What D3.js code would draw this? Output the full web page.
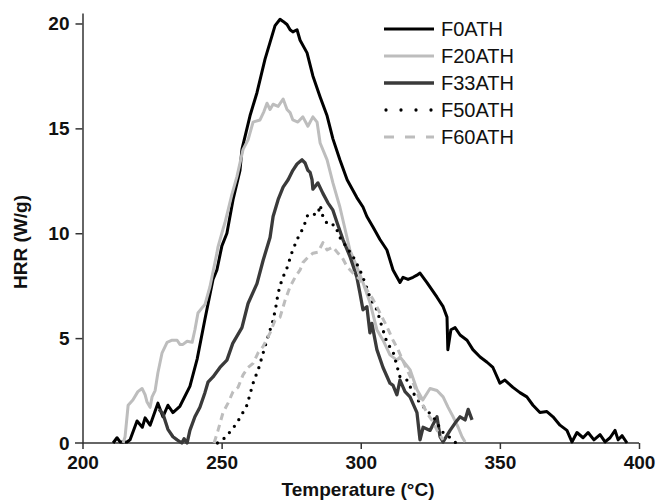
<!DOCTYPE html>
<html>
<head>
<meta charset="utf-8">
<script src="https://cdn.jsdelivr.net/npm/d3@7"></script>
<style>
  body { margin: 0; background: #fff; }
  svg { display: block; }
  .tick-label { font-family: "Liberation Sans", Arial, sans-serif; font-weight: bold; font-size: 19px; fill: #111; }
  .axis-title { font-family: "Liberation Sans", Arial, sans-serif; font-weight: bold; font-size: 19px; fill: #111; }
  .legend-text { font-family: "Liberation Sans", Arial, sans-serif; font-size: 20px; fill: #111; }
</style>
</head>
<body>
<svg id="chart" width="657" height="503"></svg>
<script>
// HRR curves, [temperature (°C), HRR (W/g)]
const f0ath = [[211.0,0],[212.4,0.25],[213.5,0.05],[216.0,0.05],[217.1,0.15],[219.6,1.05],[221.5,0.75],[222.5,1.2],[224.3,0.85],[227.1,1.9],[228.9,1.25],[230.7,1.8],[232.5,1.45],[235.0,1.75],[238.6,2.7],[241.2,4.0],[244.0,5.9],[246.9,7.8],[248.3,8.25],[250.1,9.4],[251.9,10.0],[254.1,11.6],[256.6,13.0],[257.3,14.0],[260.2,15.6],[262.7,16.7],[265.6,18.3],[267.4,19.1],[269.2,19.9],[271.0,20.2],[272.1,20.1],[273.5,19.95],[274.6,19.7],[275.6,19.6],[277.1,19.7],[278.2,19.2],[280.7,18.6],[282.8,17.5],[285.4,16.5],[287.9,15.6],[290.0,14.5],[292.5,13.5],[295.1,12.55],[298.6,11.7],[300.8,11.25],[302.2,10.8],[304.4,10.3],[306.9,9.7],[309.4,9.2],[311.6,8.25],[314.1,7.65],[315.2,7.9],[317.0,7.8],[318.8,7.9],[320.2,8.0],[321.3,8.1],[323.8,7.65],[327.4,6.95],[329.6,6.5],[331.0,6.0],[331.3,4.45],[332.4,5.4],[333.9,5.5],[335.7,5.15],[338.2,4.9],[340.3,4.45],[342.9,4.1],[345.4,3.85],[347.5,3.6],[350.0,2.85],[351.8,3.0],[354.7,2.65],[357.2,2.4],[359.7,2.2],[361.9,1.8],[364.4,1.45],[366.9,1.5],[369.1,1.25],[371.6,0.85],[374.1,0.6],[375.9,0.05],[377.7,0.5],[379.9,0.25],[381.7,0.5],[383.8,0.15],[386.0,0.4],[387.8,0.05],[389.6,0.25],[391.4,0.6],[392.5,0.15],[393.9,0.35],[395.7,0.0]];

const f20ath = [[214.6,0],[215.3,0.3],[216.4,1.8],[218.1,2.05],[219.9,2.45],[221.4,2.6],[222.5,2.3],[223.2,1.95],[224.3,1.7],[225.0,2.2],[226.1,2.5],[227.1,3.35],[228.6,4.3],[230.4,4.8],[232.2,4.9],[234.0,4.9],[235.0,4.7],[236.1,4.7],[237.6,4.85],[239.4,4.8],[240.4,5.4],[241.5,6.2],[243.3,6.5],[244.0,6.6],[245.8,7.45],[246.5,7.9],[248.3,9.05],[248.7,9.35],[250.5,10.2],[251.2,10.5],[253.7,11.85],[255.5,12.7],[257.7,14.0],[259.5,14.45],[261.3,15.3],[263.8,15.4],[265.2,15.8],[266.3,16.2],[267.4,15.9],[268.5,16.15],[270.3,16.05],[272.1,16.4],[273.5,15.9],[274.6,15.75],[275.6,15.4],[277.4,15.3],[279.2,15.55],[281.0,15.1],[282.8,15.55],[284.3,15.3],[285.4,14.3],[287.9,13.5],[290.0,12.4],[292.5,11.25],[296.1,9.2],[298.6,8.4],[300.8,7.65],[303.3,6.7],[305.8,5.4],[308.0,4.9],[310.5,4.2],[313.0,3.95],[314.1,4.1],[317.7,3.5],[320.2,2.55],[322.3,2.05],[324.9,2.6],[327.4,2.5],[329.6,2.2],[331.4,1.7],[333.2,1.25],[335.0,0.75],[336.4,0.3],[337.5,0.05]];

const f33ath = [[227.5,1.6],[228.9,1.4],[230.7,0.65],[232.5,0.3],[234.0,0.15],[235.7,0.0],[236.5,0.2],[237.6,0.0],[238.6,0.6],[240.4,1.25],[242.2,1.7],[244.0,2.4],[245.1,2.9],[246.9,3.15],[249.4,3.6],[251.9,3.95],[254.0,4.75],[257.3,5.5],[259.5,6.65],[262.7,7.6],[264.9,8.7],[267.4,9.8],[268.5,10.8],[270.3,11.6],[272.1,12.2],[273.9,12.55],[275.6,13.0],[277.1,13.3],[278.9,13.5],[280.0,13.35],[281.0,13.0],[281.8,12.9],[282.5,12.55],[282.8,12.1],[284.6,12.4],[286.4,11.9],[288.2,11.45],[290.0,11.1],[291.5,10.5],[293.6,9.7],[296.1,8.9],[298.6,7.9],[299.7,7.15],[300.8,6.35],[302.2,6.5],[303.3,5.25],[304.0,5.7],[305.8,4.45],[308.0,3.6],[310.5,2.85],[311.6,2.75],[313.0,2.3],[314.1,3.0],[315.9,2.45],[317.7,2.2],[320.2,1.45],[321.3,0.15],[322.4,0.75],[324.9,0.6],[327.4,1.25],[328.5,0.3],[329.6,0.05],[332.1,0.6],[333.9,0.95],[335.7,1.25],[337.5,1.1],[338.6,1.6],[340.0,1.1]];

const f50ath = [[248.5,0],[251.2,0.25],[254.1,0.7],[256.6,1.2],[259.1,1.8],[261.3,2.85],[263.4,3.6],[265.6,4.6],[266.6,5.05],[268.5,5.85],[269.5,6.5],[270.3,7.15],[271.7,7.8],[273.5,8.35],[275.3,9.1],[277.1,9.7],[278.9,10.15],[280.0,10.5],[281.0,10.9],[282.8,10.9],[284.6,10.9],[285.4,11.35],[286.4,10.8],[288.2,10.4],[290.7,10.4],[292.5,9.8],[295.1,9.3],[297.2,8.9],[299.7,8.25],[301.5,7.65],[303.3,6.95],[305.8,6.35],[307.6,5.55],[309.4,4.8],[311.6,4.35],[314.1,3.15],[316.6,3.0],[318.8,2.4],[321.3,1.9],[323.8,1.55],[326.0,1.25],[327.4,0.95],[329.6,0.5],[333.2,0.15],[334.2,0]];

const f60ath = [[247.3,0],[248.7,0.6],[250.5,1.45],[252.3,1.9],[254.1,2.45],[255.9,2.65],[257.7,3.25],[259.5,3.6],[261.3,3.8],[263.1,4.3],[264.9,4.6],[267.4,5.25],[269.2,5.85],[271.0,6.0],[272.8,6.8],[274.6,7.45],[276.4,7.9],[278.2,8.25],[279.2,8.6],[281.0,8.85],[282.8,9.05],[284.6,9.1],[286.4,9.55],[287.9,9.2],[290.0,9.35],[291.8,9.05],[293.3,8.85],[295.1,8.4],[297.2,8.1],[299.7,7.8],[302.2,7.3],[304.4,6.85],[306.9,6.2],[309.4,5.55],[311.6,4.9],[313.4,4.45],[315.9,3.7],[318.4,3.0],[321.3,2.05],[324.2,1.35],[326.0,1.0],[327.8,0.5],[329.6,0.15]];

const seriesNames = ["F0ATH", "F20ATH", "F33ATH", "F50ATH", "F60ATH"];
const xTicks = [200, 250, 300, 350, 400];
const yTicks = [0, 5, 10, 15, 20];

var svg = d3.select("#chart");

var x = d3.scaleLinear().domain([200, 400]).range([82.5, 639]);
var y = d3.scaleLinear().domain([0, 20.5]).range([443, 13]);

// styles per series
var styles = [
    {data: f0ath, color: "#000000", width: 3, dash: null, legendDash: null},
    {data: f20ath, color: "#bdbdbd", width: 3, dash: null, legendDash: null},
    {data: f33ath, color: "#3a3a3a", width: 3.3, dash: null, legendDash: null},
    {data: f50ath, color: "#000000", width: 3.3, dash: "0 8", legendDash: "0 15", cap: "round"},
    {data: f60ath, color: "#bdbdbd", width: 3, dash: "7 5", legendDash: "10 11"}
];

// axes
var xAxis = svg.append("g")
    .attr("transform", "translate(0," + y(0) + ")")
    .call(d3.axisBottom(x).tickValues(xTicks).tickSize(6).tickSizeOuter(0).tickPadding(7));
xAxis.select(".domain").attr("d", "M75,0H639");

var yAxis = svg.append("g")
    .attr("transform", "translate(" + x(200) + ",0)")
    .call(d3.axisLeft(y).tickValues(yTicks).tickSize(7).tickSizeOuter(0).tickPadding(6));

svg.selectAll(".domain").attr("stroke", "#333").attr("stroke-width", 1.5);
svg.selectAll(".tick line").attr("stroke", "#333").attr("stroke-width", 1.5);
svg.selectAll(".tick text").attr("class", "tick-label").attr("font-size", null).attr("font-family", null);
yAxis.select(".tick:first-of-type line").remove();

// axis titles
svg.append("text")
    .attr("class", "axis-title")
    .attr("x", 358)
    .attr("y", 496)
    .attr("text-anchor", "middle")
    .text("Temperature (°C)");

svg.append("text")
    .attr("class", "axis-title")
    .attr("transform", "translate(27,242) rotate(-90)")
    .attr("text-anchor", "middle")
    .text("HRR (W/g)");

// curves
var line = d3.line().x(d => x(d[0])).y(d => y(d[1]));

svg.append("g")
    .selectAll("path")
    .data(styles)
    .join("path")
    .attr("d", d => line(d.data))
    .attr("fill", "none")
    .attr("stroke", d => d.color)
    .attr("stroke-width", d => d.width)
    .attr("stroke-dasharray", d => d.dash)
    .attr("stroke-linecap", d => d.cap || "butt")
    .attr("stroke-linejoin", "round");

// legend
var legend = svg.append("g").selectAll("g")
    .data(styles)
    .join("g")
    .attr("transform", (d, i) => "translate(0," + (29 + i * 27) + ")");

legend.append("line")
    .attr("x1", d => d.cap ? 386 : 384)
    .attr("x2", 434)
    .attr("y1", 0).attr("y2", 0)
    .attr("stroke", d => d.color)
    .attr("stroke-width", d => d.width)
    .attr("stroke-dasharray", d => d.legendDash)
    .attr("stroke-linecap", d => d.cap || "butt");

legend.append("text")
    .attr("class", "legend-text")
    .attr("x", 441)
    .attr("y", 7)
    .text((d, i) => seriesNames[i]);
</script>
</body>
</html>
